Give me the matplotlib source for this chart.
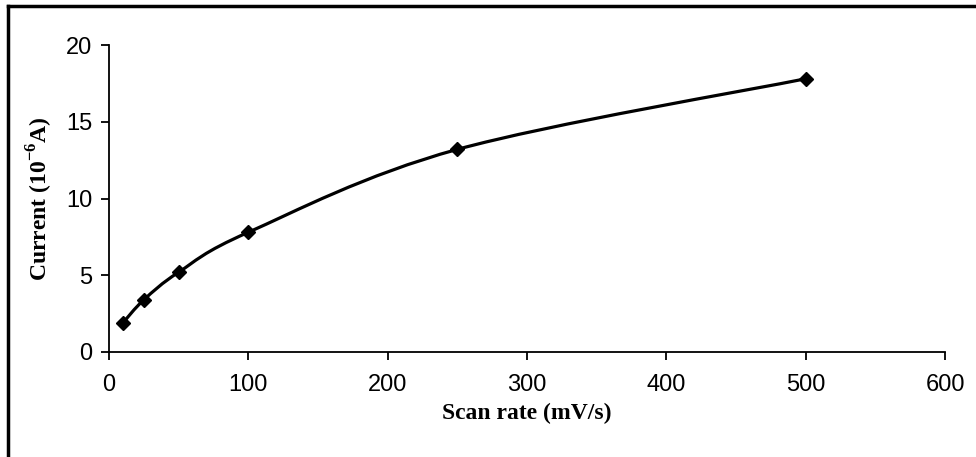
import matplotlib
matplotlib.use("Agg")
import matplotlib.pyplot as plt
from matplotlib.path import Path
from matplotlib.patches import PathPatch
from matplotlib.lines import Line2D
import numpy as np

plt.rcParams['mathtext.fontset'] = 'custom'
plt.rcParams['mathtext.bf'] = 'Liberation Serif:bold'
plt.rcParams['mathtext.rm'] = 'Liberation Serif:bold'

scan_rate = [10, 25, 50, 100, 250, 500]
current = [1.9, 3.4, 5.2, 7.8, 13.2, 17.8]
x_ticks = [0, 100, 200, 300, 400, 500, 600]
y_ticks = [0, 5, 10, 15, 20]

fig = plt.figure(figsize=(9.76, 4.57), dpi=100)
ax = fig.add_axes([109/976, 1-352/457, (945-109)/976, (352-45)/457])

# smoothed line (Catmull-Rom style Bezier through the data points), like Excel
xs = np.array(scan_rate, float)
ys = np.array(current, float)
verts = [(xs[0], ys[0])]
codes = [Path.MOVETO]
n = len(xs)
for i in range(n - 1):
    p0 = (xs[max(i-1, 0)], ys[max(i-1, 0)])
    p1 = (xs[i], ys[i])
    p2 = (xs[i+1], ys[i+1])
    p3 = (xs[min(i+2, n-1)], ys[min(i+2, n-1)])
    t = 1/6
    c1 = (p1[0] + (p2[0]-p0[0])*t, p1[1] + (p2[1]-p0[1])*t)
    c2 = (p2[0] - (p3[0]-p1[0])*t, p2[1] - (p3[1]-p1[1])*t)
    verts += [c1, c2, p2]
    codes += [Path.CURVE4]*3
ax.add_patch(PathPatch(Path(verts, codes), fill=False, lw=2.3, edgecolor='black'))
ax.plot(scan_rate, current, linestyle='none', marker='D', ms=7.5, color='black')

ax.set_xlim(0, 600)
ax.set_ylim(0, 20)
ax.set_xticks(x_ticks)
ax.set_yticks(y_ticks)
ax.spines['top'].set_visible(False)
ax.spines['right'].set_visible(False)
for s in ['left', 'bottom']:
    ax.spines[s].set_linewidth(1.3)
ax.tick_params(direction='out', length=6, width=1.3, labelsize=17)
ax.tick_params(axis='x', pad=10)
ax.tick_params(axis='y', pad=6)
for lab in ax.get_xticklabels() + ax.get_yticklabels():
    lab.set_fontfamily('Liberation Sans')

ax.set_xlabel('Scan rate (mV/s)', fontfamily='Liberation Serif', fontweight='bold',
              fontsize=17, labelpad=5)
ax.set_ylabel('Current (10$^{\\mathbf{-6}}$A)', fontfamily='Liberation Serif', fontweight='bold',
              fontsize=17, labelpad=8)

# outer border
fig.add_artist(Line2D([8/976, 8/976], [0, 1-6/457], transform=fig.transFigure, color='black', lw=2.5))
fig.add_artist(Line2D([8/976, 1], [1-6/457, 1-6/457], transform=fig.transFigure, color='black', lw=2.5))

fig.savefig('out.png', dpi=100)
